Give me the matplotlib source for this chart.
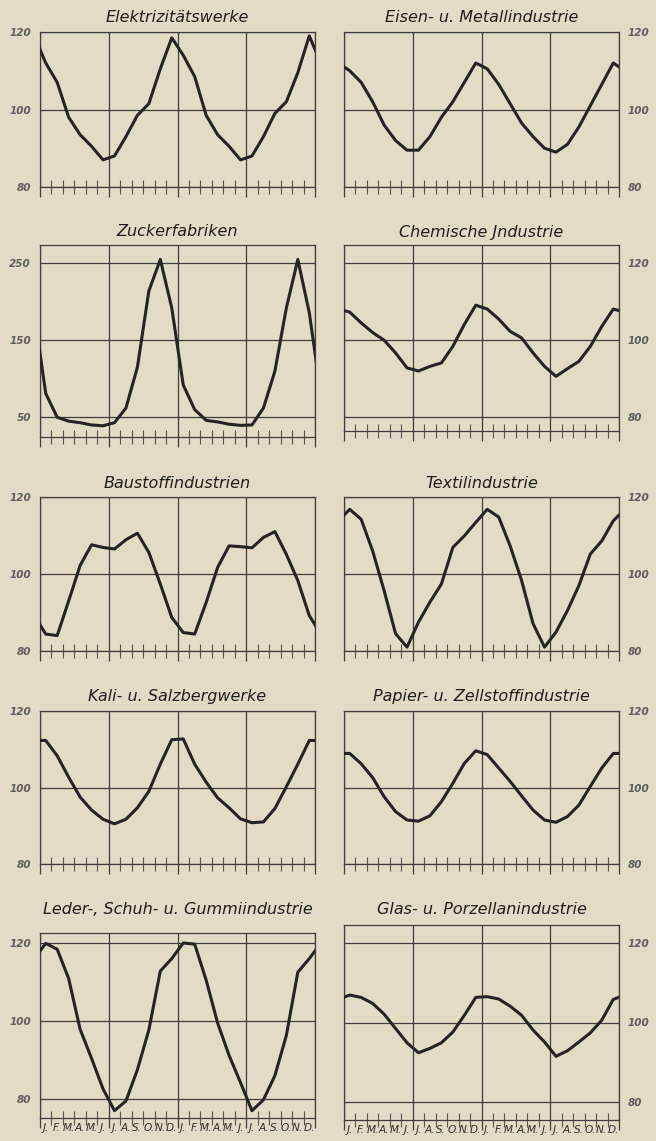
import numpy as np
import matplotlib
matplotlib.use("Agg")
import matplotlib.pyplot as plt
from matplotlib import transforms

# ---------------- data (monthly seasonal index, two years J..D, J..D) -------------
months = ["J.", "F.", "M.", "A.", "M.", "J.", "J.", "A.", "S.", "O.", "N.", "D."]

titles = [
    "Elektrizitätswerke", "Eisen- u. Metallindustrie",
    "Zuckerfabriken", "Chemische Jndustrie",
    "Baustoffindustrien", "Textilindustrie",
    "Kali- u. Salzbergwerke", "Papier- u. Zellstoffindustrie",
    "Leder-, Schuh- u. Gummiindustrie", "Glas- u. Porzellanindustrie",
]

elektrizitaet = [112, 107, 98, 93.5, 90.5, 87, 88, 93, 98.5, 101.5, 110.5, 118.5,
                 114, 108.5, 98.5, 93.5, 90.5, 87, 88, 93, 99, 102, 109.5, 119]
eisen = [110, 107, 102, 96, 92, 89.5, 89.5, 93, 98, 102, 107, 112,
         110.5, 106.5, 101.5, 96.5, 93, 90, 89, 91, 95.5, 101, 106.5, 112]
zucker = [81, 50, 45, 43, 40, 39, 43, 62, 115, 214, 255, 192,
          92, 60, 46, 44, 41, 39.5, 40, 62, 110, 192, 255, 186]
chemie = [107.3, 104.5, 102, 100, 96.7, 92.8, 92, 93.2, 94.1, 98.4, 104.1, 109.1,
          108.1, 105.5, 102.3, 100.6, 96.7, 93.2, 90.6, 92.6, 94.5, 98.4, 103.6, 108.1]
baustoff = [84.4, 84, 93, 102.2, 107.6, 106.9, 106.5, 108.9, 110.6, 105.6, 97.4, 88.7,
            84.8, 84.4, 92.6, 101.7, 107.3, 107.1, 106.8, 109.5, 111, 105.1, 98.3, 89.2]
textil = [116.8, 114.2, 106, 95.7, 84.5, 81, 87.5, 92.7, 97.4, 106.9, 109.9, 113.4,
          116.8, 114.8, 107.3, 98.3, 87.1, 81, 84.9, 90.5, 97, 105.2, 108.6, 113.8]
kali = [112.3, 108.3, 102.7, 97.5, 94.1, 91.7, 90.5, 91.7, 94.7, 99, 106.1, 112.5,
        112.7, 106.1, 101.4, 97.3, 94.7, 91.8, 90.8, 91, 94.5, 100.2, 106.1, 112.3]
papier = [108.9, 106.2, 102.6, 97.6, 93.7, 91.5, 91.2, 92.6, 96.3, 101.1, 106.3, 109.6,
          108.6, 105.1, 101.6, 97.8, 94.1, 91.5, 90.9, 92.4, 95.4, 100.3, 105.1, 108.9]
leder = [119.9, 118.4, 110.9, 97.9, 90.4, 82.6, 77, 79.5, 87.5, 97.7, 112.8, 116,
         120, 119.7, 110.5, 99.5, 91.2, 84.2, 77, 79.8, 86, 96.3, 112.5, 116]
glas = [106.9, 106.3, 104.8, 102.1, 98.5, 94.9, 92.4, 93.5, 94.9, 97.6, 101.8, 106.3,
        106.5, 105.9, 104.1, 101.8, 98.1, 95.1, 91.5, 92.9, 95.1, 97.4, 100.6, 105.8]

series = [elektrizitaet, eisen, zucker, chemie, baustoff, textil, kali, papier, leder, glas]
yticks_std = [80, 100, 120]
yticks_zucker = [50, 150, 250]
yticks_list = [yticks_std, yticks_std, yticks_zucker, yticks_std, yticks_std,
               yticks_std, yticks_std, yticks_std, yticks_std, yticks_std]

# ---------------- layout (pixels) -------------------------------------------------
W, H, DPI = 656, 1141, 100
BG = "#e2dbc5"
LINE = "#242424"
GRID = "#3e3e3e"
LABEL = "#5e5e5e"

cols = [(40, 315), (344, 619)]
# (top, bottom, ymin, ymax) per panel
frames = [
    (32, 187, 80, 120), (32, 187, 80, 120),
    (245, 437, 24.4, 273.8), (245, 431, 76.4, 124.75),
    (497, 651, 80, 120), (497, 651, 80, 120),
    (711, 864, 80, 120), (711, 864, 80, 120),
    (933, 1118, 75.13, 122.56), (925, 1120, 75.5, 124.5),
]
title_y = [17, 17, 232, 232, 483, 483, 697, 697, 909, 909]

fig = plt.figure(figsize=(W / DPI, H / DPI), dpi=DPI, facecolor=BG)


def px_rect(L, T, R, B):
    return [L / W, 1 - B / H, (R - L) / W, (B - T) / H]


for k, (title, vals, yt) in enumerate(zip(titles, series, yticks_list)):
    col = k % 2
    L, R = cols[col]
    T, B, y0, y1 = frames[k]
    ax = fig.add_axes(px_rect(L, T, R, B))
    ax.set_facecolor(BG)

    y = np.asarray(vals, dtype=float)
    x = np.arange(len(y)) + 0.5
    # continue cyclically beyond the frame (clipped by the axes)
    xe = np.r_[x[0] - 1, x, x[-1] + 1]
    ye = np.r_[y[-1], y, y[0]]
    ax.plot(xe, ye, color=LINE, lw=2.2, solid_joinstyle="round",
            solid_capstyle="round", zorder=3)

    ax.set_xlim(0, 24)
    ax.set_ylim(y0, y1)
    ax.set_xticks(np.arange(0, 25, 6))
    ax.set_xticks([m for m in range(1, 24) if m % 6], minor=True)
    ax.tick_params(axis="x", which="major", direction="out", length=7,
                   width=0.9, color=GRID, labelbottom=False)
    ax.tick_params(axis="x", which="minor", direction="inout", length=10,
                   width=0.8, color="#555555")

    ax.set_yticks(yt)
    ax.set_yticklabels([str(v) for v in yt])
    if col == 1:
        ax.yaxis.tick_right()
        ax.tick_params(axis="y", which="both", left=False, right=False,
                       labelleft=False, labelright=True)
    else:
        ax.tick_params(axis="y", which="both", left=False, right=False,
                       labelleft=True, labelright=False)
    ax.tick_params(axis="y", labelsize=7.5, labelcolor=LABEL, pad=3)
    for lab in ax.get_yticklabels():
        lab.set_fontstyle("italic")
        lab.set_fontweight("bold")

    ax.grid(True, which="major", color=GRID, lw=0.9, zorder=1)
    for s in ax.spines.values():
        s.set_color(GRID)
        s.set_linewidth(0.9)

    fig.text(((L + R) / 2) / W, 1 - title_y[k] / H, title, ha="center",
             va="center", fontsize=11.5, style="italic", color="#1e1e1e")

    if k >= 8:
        trans = transforms.blended_transform_factory(ax.transData, ax.transAxes) + \
            transforms.ScaledTranslation(0, -10 / DPI, fig.dpi_scale_trans)
        for i in range(24):
            ax.text(i + 0.5, 0, months[i % 12], transform=trans, ha="center",
                    va="center", fontsize=7.6, style="italic", color="#2e2e2e",
                    clip_on=False)

fig.savefig("out.png", dpi=DPI, facecolor=BG)
